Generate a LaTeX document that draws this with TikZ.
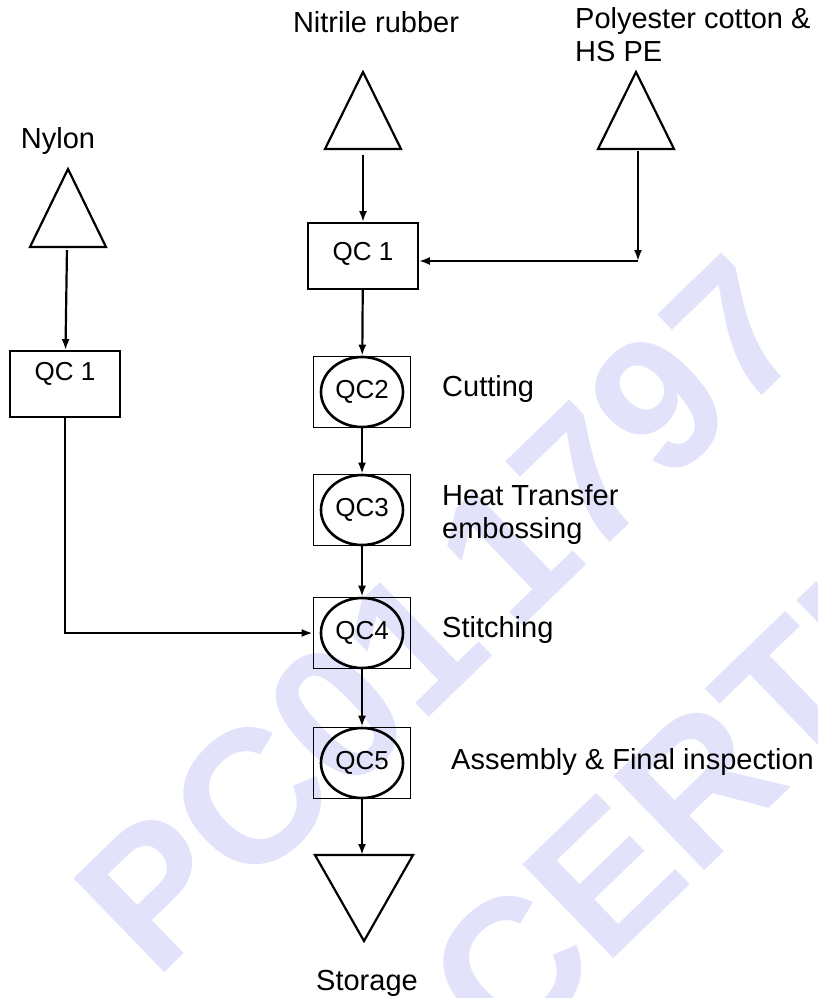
\documentclass[tikz,border=0pt]{standalone}
\usepackage{fontspec}
\setmainfont{Liberation Sans}
\usetikzlibrary{arrows.meta,positioning,shapes.geometric}

\definecolor{stampblue}{RGB}{226,226,250}

\begin{document}
\begin{tikzpicture}[x=1pt,y=-1pt,>={Latex[length=11pt,width=8pt]},
  every node/.style={font=\fontsize{29}{33}\selectfont,inner sep=0pt},
  srcbox/.style={draw,line width=1.8pt,minimum width=110pt,minimum height=66pt,font=\fontsize{26}{30}\selectfont},
  qcbox/.style={draw,line width=1.6pt,minimum width=97pt,minimum height=71pt},
  qcring/.style={draw,ellipse,line width=2.6pt,minimum width=82pt,minimum height=70pt,font=\fontsize{26}{30}\selectfont},
  tri/.style={draw,line width=2.2pt,line join=miter},
  flow/.style={->,line width=2.2pt},
  stamp/.style={text=stampblue,font=\fontsize{190}{190}\selectfont\bfseries,rotate=44}]
  \useasboundingbox (0,0) rectangle (818,998);

  % watermark
  \begin{scope}
    \clip (0,0) rectangle (818,998);
    \node[stamp,anchor=base west] (mark) at (155,982) {\spaceskip=.13em PC01 1797};
    \node[stamp,anchor=base west] (markb) at (506,1063) {CERTI};
  \end{scope}

  % raw materials
  \draw[tri] (363,72) -- (401,149) -- (325,149) -- cycle;
  \draw[tri] (636,72) -- (674,149) -- (598,149) -- cycle;
  \draw[tri] (68,169) -- (106,247) -- (30,247) -- cycle;
  \coordinate (nitrb) at (363,149);
  \coordinate (polyb) at (638,149);
  \coordinate (nylb) at (67,247);
  \coordinate (joint) at (638,261);

  \node[anchor=base] (nitr) at (376,33) {Nitrile rubber};
  \node[anchor=base west,align=left] (poly) at (575,62) {Polyester cotton \&\\HS PE};
  \node[anchor=base] (nyl) at (58,148) {Nylon};

  % quality checks
  \node[srcbox,text depth=10pt] (qca) at (363,256) {QC 1};
  \node[srcbox,text depth=26pt] (nqc) at (65,384) {QC 1};
  \foreach \n/\y in {2/392,3/510,4/633,5/763} {
    \node[qcbox] (qc\n) at (362,\y) {};
    \node[qcring] (ring\n) at (362,\y) {QC\n};
  }

  % storage
  \draw[tri] (315,855) -- (413,855) -- (364,941) -- cycle;
  \coordinate (storb) at (362,855);
  \node[anchor=base] (stor) at (367,990) {Storage};

  % process steps
  \node[anchor=base west] (cut) at (442,396) {Cutting};
  \node[anchor=base west,align=left] (heat) at (442,538) {Heat Transfer\\embossing};
  \node[anchor=base west] (stit) at (442,637) {Stitching};
  \node[anchor=base west] (asse) at (451,769) {Assembly \& Final inspection};

  % flow
  \draw[flow,shorten <=6pt] (nitrb) -- (qca);
  \draw[flow,shorten <=2pt] (polyb) -- (joint);
  \draw[flow] (joint) -- (joint -| qca.east);
  \draw[flow] (qca) -- (qc2);
  \draw[flow] (qc2) -- (qc3);
  \draw[flow] (qc3) -- (qc4);
  \draw[flow] (qc4) -- (qc5);
  \draw[flow] (qc5) -- (storb);
  \draw[flow,shorten <=3pt] (nylb) -- (nqc);
  \draw[flow] (nqc) |- (qc4);
\end{tikzpicture}
\end{document}
